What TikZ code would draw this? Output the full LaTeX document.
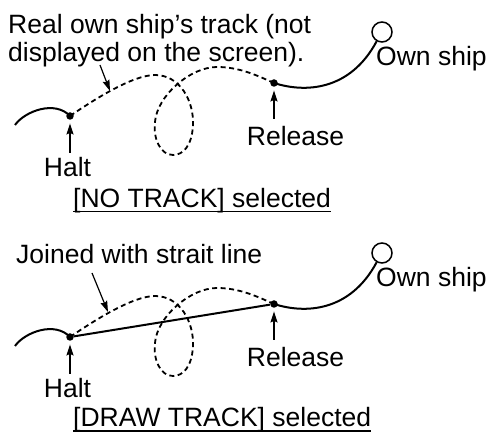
\documentclass[tikz,border=0pt]{standalone}
\usepackage{fontspec}
\setmainfont{Liberation Sans}
\usetikzlibrary{arrows.meta}

\begin{document}
\begin{tikzpicture}[x=1pt,y=1pt,font=\fontsize{26.5}{28.5}\selectfont,
  trkdot/.style={circle,fill,inner sep=0pt,minimum size=7.5pt},
  shipmark/.style={circle,draw,line width=1.5pt,inner sep=0pt,minimum size=20pt},
  track/.style={line width=2pt},
  hidden/.style={line width=1.8pt,dash pattern=on 5pt off 3.5pt},
  pointer/.style={line width=1.2pt,-{Stealth[length=11pt,width=7pt,inset=1.5pt]}},
  lbl/.style={inner sep=0pt}]
  \useasboundingbox (0,0) rectangle (488,436);
  % the two panels share the track
  \foreach \dy/\p in {0/a,-221/b} {
    \begin{scope}[yshift=\dy]
      \node[trkdot] (halt\p) at (70,320) {};
      \node[trkdot] (release\p) at (274,353) {};
      \node[shipmark] (ship\p) at (382,404) {};
      \node[lbl,anchor=base] (halttxt\p) at (67.5,259) {Halt};
      \node[lbl,anchor=base] (reltxt\p) at (295.5,290) {Release};
      \node[lbl,anchor=base west] (shiptxt\p) at (376,370) {Own ship};
      \coordinate (start\p) at (15,311);
      \draw[track] (start\p) .. controls (25,325) and (55,336) .. (halt\p.center);
      \draw[hidden] (halt\p.center) .. controls (95,337) and (133,361) .. (155,361)
        .. controls (180,361) and (194,335) .. (193,311)
        .. controls (192,290) and (183,281) .. (173,281)
        .. controls (160,281) and (153,298) .. (155,314)
        .. controls (157,340) and (190,369) .. (217,369)
        .. controls (240,369) and (258,360) .. (release\p.center);
      \draw[track] (release\p.center) .. controls (305,343) and (350,345) .. (ship\p.240);
      \draw[pointer,shorten <=5pt,shorten >=3.5pt] (halttxt\p.north -| halt\p) -- (halt\p);
      \draw[pointer,shorten <=8pt,shorten >=3.5pt] (reltxt\p.north -| release\p) -- (release\p);
    \end{scope}
  }
  % upper panel
  \node[lbl,anchor=base west,align=left] (notea) at (8,374.2)
    {Real own ship’s track (not\\displayed on the screen).};
  \coordinate (fromA) at (100,371);
  \coordinate (trkA) at (110,345);
  \draw[pointer] (fromA) -- (trkA);
  \node[lbl,anchor=base west] (selA) at (73,228.5) {[NO TRACK] selected};
  \draw[line width=1.2pt] ([yshift=-4pt]selA.base west) -- ([yshift=-4pt]selA.base east);
  % lower panel
  \draw[track] (haltb) -- (releaseb);
  \node[lbl,anchor=base west] (noteb) at (16,172.7) {Joined with strait line};
  \coordinate (fromB) at (92,163);
  \coordinate (trkB) at (108,124);
  \draw[pointer] (fromB) -- (trkB);
  \node[lbl,anchor=base west] (selB) at (73,9) {[DRAW TRACK] selected};
  \draw[line width=1.2pt] ([yshift=-4pt]selB.base west) -- ([yshift=-4pt]selB.base east);
\end{tikzpicture}
\end{document}
